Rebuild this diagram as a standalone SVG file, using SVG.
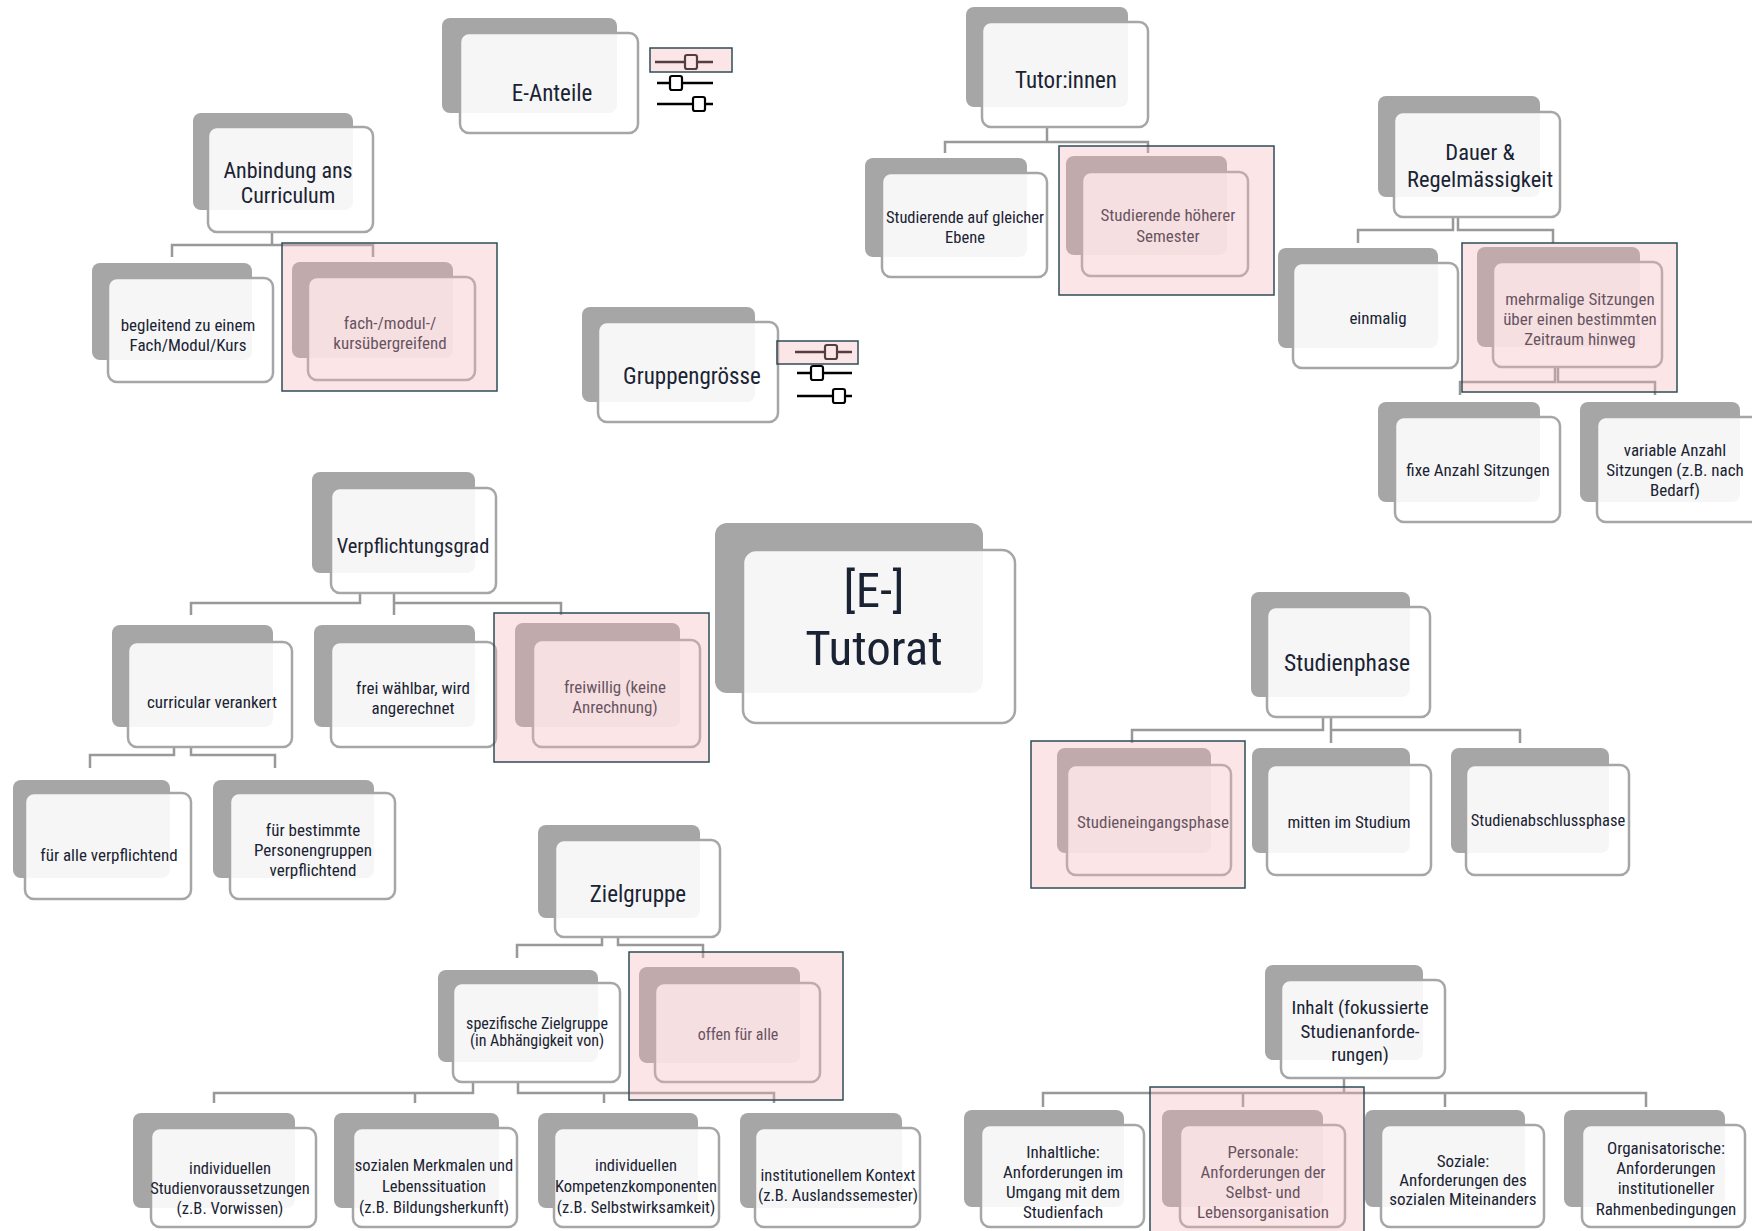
<svg xmlns="http://www.w3.org/2000/svg" width="1752" height="1231" viewBox="0 0 1752 1231">
<style>
.sh{fill:#a6a6a6}
.fr{fill:#fff;fill-opacity:.9;stroke:#a6a6a6;stroke-width:2.5}
.t{font-family:"Liberation Sans Narrow","Arial Narrow","Roboto Condensed","DejaVu Sans Condensed","Liberation Sans",sans-serif;fill:#1a2333;text-anchor:middle}
.ti{font-size:22px}
.ch{font-size:17px}
.cb{font-size:16.5px}
.sm{font-size:16px}
.hl{fill:#f3b2b8;fill-opacity:.34;stroke:#2f4c57;stroke-width:1.5}
.cn{fill:none;stroke:#999;stroke-width:2.5}
.sl{stroke:#000;stroke-width:2.5}
.kn{fill:#fff;stroke:#000;stroke-width:2.2}
</style>
<rect width="1752" height="1231" fill="#fff"/>
<g id="connectors">
<path class="cn" d="M272,232V245H172V257M272,245H373V257"/>
<path class="cn" d="M1047,127V142H945V153M1047,142H1148V153"/>
<path class="cn" d="M1453,217V230H1358V243M1458,217V230H1553V243"/>
<path class="cn" d="M1555,367V382H1460V395M1558,367V382H1655V395"/>
<path class="cn" d="M360,593V603H191V615M394,593V615M394,603H561V615"/>
<path class="cn" d="M174,747V755H90V768M191,747V755H275V768"/>
<path class="cn" d="M1323,717V730H1132V743M1331,717V743M1331,730H1520V743"/>
<path class="cn" d="M602,937V945H517V958M618,937V945H703V958"/>
<path class="cn" d="M473,1082V1093H214V1103M415,1093V1103M518,1082V1093H774V1103M604,1093V1103"/>
<path class="cn" d="M1344,1078V1093M1043,1107V1093H1646V1107M1243,1093V1107M1445,1093V1107"/>
</g>
<g id="e-anteile">
<rect class="sh" x="442" y="18" width="175" height="95" rx="8"/>
<rect class="fr" x="460" y="33" width="178" height="100" rx="9"/>
<text class="t" x="552" y="101" font-size="23">E-Anteile</text>
</g>
<g id="slider-e-anteile">
<line class="sl" x1="655" y1="62" x2="713" y2="62"/>
<rect class="kn" x="685" y="55" width="12" height="14" rx="2"/>
<line class="sl" x1="657" y1="83" x2="713" y2="83"/>
<rect class="kn" x="670" y="76" width="12" height="14" rx="2"/>
<line class="sl" x1="657" y1="104" x2="713" y2="104"/>
<rect class="kn" x="693" y="97" width="12" height="14" rx="2"/>
<rect class="hl" x="650" y="48" width="82" height="24"/>
</g>
<g id="gruppengroesse">
<rect class="sh" x="582" y="307" width="173" height="95" rx="8"/>
<rect class="fr" x="598" y="322" width="180" height="100" rx="9"/>
<text class="t" x="692" y="384" font-size="23">Gruppengrösse</text>
</g>
<g id="slider-gruppengroesse">
<line class="sl" x1="795" y1="352" x2="852" y2="352"/>
<rect class="kn" x="825" y="345" width="12" height="14" rx="2"/>
<line class="sl" x1="797" y1="373" x2="852" y2="373"/>
<rect class="kn" x="811" y="366" width="12" height="14" rx="2"/>
<line class="sl" x1="797" y1="396" x2="852" y2="396"/>
<rect class="kn" x="833" y="389" width="12" height="14" rx="2"/>
<rect class="hl" x="777" y="341" width="81" height="23"/>
</g>
<g id="anbindung">
<rect class="sh" x="193" y="113" width="160" height="97" rx="8"/>
<rect class="fr" x="208" y="127" width="165" height="105" rx="9"/>
<text class="t ti" x="288" y="178">Anbindung ans</text>
<text class="t ti" x="288" y="203">Curriculum</text>
</g>
<g id="begleitend">
<rect class="sh" x="92" y="263" width="160" height="97" rx="8"/>
<rect class="fr" x="108" y="278" width="165" height="104" rx="9"/>
<text class="t ch" x="188" y="331">begleitend zu einem</text>
<text class="t ch" x="188" y="351">Fach/Modul/Kurs</text>
</g>
<g id="fachuebergreifend">
<rect class="sh" x="292" y="262" width="161" height="96" rx="8"/>
<rect class="fr" x="308" y="277" width="167" height="103" rx="9"/>
<text class="t ch" x="390" y="329">fach-/modul-/</text>
<text class="t ch" x="390" y="349">kursübergreifend</text>
<rect class="hl" x="282" y="243" width="215" height="148"/>
</g>
<g id="tutorinnen">
<rect class="sh" x="966" y="7" width="162" height="100" rx="8"/>
<rect class="fr" x="982" y="22" width="166" height="105" rx="9"/>
<text class="t" x="1066" y="88" font-size="23">Tutor:innen</text>
</g>
<g id="gleiche-ebene">
<rect class="sh" x="865" y="158" width="162" height="99" rx="8"/>
<rect class="fr" x="882" y="173" width="165" height="104" rx="9"/>
<text class="t" x="965" y="223" font-size="16.5">Studierende auf gleicher</text>
<text class="t" x="965" y="243" font-size="16.5">Ebene</text>
</g>
<g id="hoehere-semester">
<rect class="sh" x="1066" y="156" width="161" height="99" rx="8"/>
<rect class="fr" x="1082" y="172" width="166" height="104" rx="9"/>
<text class="t ch" x="1168" y="221">Studierende höherer</text>
<text class="t ch" x="1168" y="242">Semester</text>
<rect class="hl" x="1059" y="146" width="215" height="149"/>
</g>
<g id="dauer">
<rect class="sh" x="1378" y="96" width="162" height="101" rx="8"/>
<rect class="fr" x="1394" y="112" width="166" height="105" rx="9"/>
<text class="t" x="1480" y="160" font-size="22.5">Dauer &amp;</text>
<text class="t" x="1480" y="187" font-size="22.5">Regelmässigkeit</text>
</g>
<g id="einmalig">
<rect class="sh" x="1278" y="248" width="160" height="100" rx="8"/>
<rect class="fr" x="1293" y="263" width="165" height="105" rx="9"/>
<text class="t ch" x="1378" y="324">einmalig</text>
</g>
<g id="mehrmalig">
<rect class="sh" x="1477" y="247" width="163" height="100" rx="8"/>
<rect class="fr" x="1493" y="262" width="169" height="105" rx="9"/>
<text class="t ch" x="1580" y="305">mehrmalige Sitzungen</text>
<text class="t ch" x="1580" y="325">über einen bestimmten</text>
<text class="t ch" x="1580" y="345">Zeitraum hinweg</text>
<rect class="hl" x="1462" y="243" width="215" height="149"/>
</g>
<g id="fixe-anzahl">
<rect class="sh" x="1378" y="402" width="162" height="100" rx="8"/>
<rect class="fr" x="1395" y="417" width="165" height="105" rx="9"/>
<text class="t ch" x="1478" y="476">fixe Anzahl Sitzungen</text>
</g>
<g id="variable-anzahl">
<rect class="sh" x="1580" y="402" width="160" height="100" rx="8"/>
<rect class="fr" x="1597" y="417" width="165" height="105" rx="9"/>
<text class="t ch" x="1675" y="456">variable Anzahl</text>
<text class="t ch" x="1675" y="476">Sitzungen (z.B. nach</text>
<text class="t ch" x="1675" y="496">Bedarf)</text>
</g>
<g id="tutorat">
<rect class="sh" x="715" y="523" width="268" height="170" rx="12"/>
<rect class="fr" x="743" y="550" width="272" height="173" rx="13"/>
<text class="t" x="874" y="607" font-size="49">[E-]</text>
<text class="t" x="874" y="665" font-size="49">Tutorat</text>
</g>
<g id="verpflichtungsgrad">
<rect class="sh" x="312" y="472" width="163" height="101" rx="8"/>
<rect class="fr" x="331" y="488" width="165" height="105" rx="9"/>
<text class="t" x="413" y="553" font-size="20.5">Verpflichtungsgrad</text>
</g>
<g id="curricular">
<rect class="sh" x="112" y="625" width="161" height="102" rx="8"/>
<rect class="fr" x="128" y="642" width="164" height="105" rx="9"/>
<text class="t ch" x="212" y="708">curricular verankert</text>
</g>
<g id="frei-waehlbar">
<rect class="sh" x="314" y="625" width="161" height="102" rx="8"/>
<rect class="fr" x="331" y="642" width="165" height="105" rx="9"/>
<text class="t ch" x="413" y="694">frei wählbar, wird</text>
<text class="t ch" x="413" y="714">angerechnet</text>
</g>
<g id="freiwillig">
<rect class="sh" x="515" y="623" width="165" height="104" rx="8"/>
<rect class="fr" x="533" y="640" width="167" height="107" rx="9"/>
<text class="t ch" x="615" y="693">freiwillig (keine</text>
<text class="t ch" x="615" y="713">Anrechnung)</text>
<rect class="hl" x="494" y="613" width="215" height="149"/>
</g>
<g id="fuer-alle">
<rect class="sh" x="13" y="780" width="157" height="98" rx="8"/>
<rect class="fr" x="25" y="793" width="166" height="106" rx="9"/>
<text class="t ch" x="109" y="861">für alle verpflichtend</text>
</g>
<g id="fuer-bestimmte">
<rect class="sh" x="213" y="780" width="161" height="98" rx="8"/>
<rect class="fr" x="230" y="793" width="165" height="106" rx="9"/>
<text class="t ch" x="313" y="836">für bestimmte</text>
<text class="t ch" x="313" y="856">Personengruppen</text>
<text class="t ch" x="313" y="876">verpflichtend</text>
</g>
<g id="studienphase">
<rect class="sh" x="1251" y="592" width="159" height="105" rx="8"/>
<rect class="fr" x="1267" y="607" width="163" height="110" rx="9"/>
<text class="t" x="1347" y="671" font-size="23.5">Studienphase</text>
</g>
<g id="studieneingang">
<rect class="sh" x="1057" y="748" width="154" height="105" rx="8"/>
<rect class="fr" x="1067" y="765" width="164" height="110" rx="9"/>
<text class="t ch" x="1153" y="828">Studieneingangsphase</text>
<rect class="hl" x="1031" y="741" width="214" height="147"/>
</g>
<g id="mitten">
<rect class="sh" x="1252" y="748" width="158" height="105" rx="8"/>
<rect class="fr" x="1267" y="765" width="164" height="110" rx="9"/>
<text class="t ch" x="1349" y="828">mitten im Studium</text>
</g>
<g id="studienabschluss">
<rect class="sh" x="1451" y="748" width="158" height="105" rx="8"/>
<rect class="fr" x="1466" y="765" width="163" height="110" rx="9"/>
<text class="t" x="1548" y="826" font-size="16.5">Studienabschlussphase</text>
</g>
<g id="zielgruppe">
<rect class="sh" x="538" y="825" width="162" height="93" rx="8"/>
<rect class="fr" x="555" y="840" width="165" height="97" rx="9"/>
<text class="t" x="638" y="902" font-size="23">Zielgruppe</text>
</g>
<g id="spezifisch">
<rect class="sh" x="438" y="970" width="160" height="92" rx="8"/>
<rect class="fr" x="453" y="983" width="167" height="99" rx="9"/>
<text class="t sm" x="537" y="1029">spezifische Zielgruppe</text>
<text class="t sm" x="537" y="1046">(in Abhängigkeit von)</text>
</g>
<g id="offen">
<rect class="sh" x="639" y="967" width="161" height="96" rx="8"/>
<rect class="fr" x="655" y="983" width="165" height="99" rx="9"/>
<text class="t sm" x="738" y="1040">offen für alle</text>
<rect class="hl" x="629" y="952" width="214" height="148"/>
</g>
<g id="studienvoraussetzungen">
<rect class="sh" x="133" y="1113" width="162" height="95" rx="8"/>
<rect class="fr" x="151" y="1128" width="165" height="99" rx="9"/>
<text class="t cb" x="230" y="1174">individuellen</text>
<text class="t cb" x="230" y="1194">Studienvoraussetzungen</text>
<text class="t cb" x="230" y="1214">(z.B. Vorwissen)</text>
</g>
<g id="soziale-merkmale">
<rect class="sh" x="334" y="1113" width="165" height="95" rx="8"/>
<rect class="fr" x="353" y="1128" width="164" height="99" rx="9"/>
<text class="t cb" x="434" y="1171">sozialen Merkmalen und</text>
<text class="t cb" x="434" y="1192">Lebenssituation</text>
<text class="t cb" x="434" y="1213">(z.B. Bildungsherkunft)</text>
</g>
<g id="kompetenz">
<rect class="sh" x="538" y="1113" width="160" height="95" rx="8"/>
<rect class="fr" x="554" y="1128" width="165" height="99" rx="9"/>
<text class="t cb" x="636" y="1171">individuellen</text>
<text class="t cb" x="636" y="1192">Kompetenzkomponenten</text>
<text class="t cb" x="636" y="1213">(z.B. Selbstwirksamkeit)</text>
</g>
<g id="institutionell">
<rect class="sh" x="740" y="1113" width="162" height="95" rx="8"/>
<rect class="fr" x="755" y="1128" width="165" height="99" rx="9"/>
<text class="t cb" x="838" y="1181">institutionellem Kontext</text>
<text class="t cb" x="838" y="1201">(z.B. Auslandssemester)</text>
</g>
<g id="inhalt">
<rect class="sh" x="1265" y="965" width="158" height="95" rx="8"/>
<rect class="fr" x="1281" y="980" width="164" height="98" rx="9"/>
<text class="t" x="1360" y="1014" font-size="19">Inhalt (fokussierte</text>
<text class="t" x="1360" y="1038" font-size="19">Studienanforde-</text>
<text class="t" x="1360" y="1061" font-size="19">rungen)</text>
</g>
<g id="inhaltliche">
<rect class="sh" x="964" y="1110" width="160" height="97" rx="8"/>
<rect class="fr" x="981" y="1125" width="163" height="102" rx="9"/>
<text class="t ch" x="1063" y="1158">Inhaltliche:</text>
<text class="t ch" x="1063" y="1178">Anforderungen im</text>
<text class="t ch" x="1063" y="1198">Umgang mit dem</text>
<text class="t ch" x="1063" y="1218">Studienfach</text>
</g>
<g id="personale">
<rect class="sh" x="1162" y="1110" width="161" height="97" rx="8"/>
<rect class="fr" x="1180" y="1125" width="165" height="102" rx="9"/>
<text class="t ch" x="1263" y="1158">Personale:</text>
<text class="t ch" x="1263" y="1178">Anforderungen der</text>
<text class="t ch" x="1263" y="1198">Selbst- und</text>
<text class="t ch" x="1263" y="1218">Lebensorganisation</text>
<rect class="hl" x="1150" y="1087" width="214" height="150"/>
</g>
<g id="soziale">
<rect class="sh" x="1365" y="1110" width="160" height="97" rx="8"/>
<rect class="fr" x="1381" y="1125" width="163" height="102" rx="9"/>
<text class="t ch" x="1463" y="1167">Soziale:</text>
<text class="t ch" x="1463" y="1186">Anforderungen des</text>
<text class="t ch" x="1463" y="1205">sozialen Miteinanders</text>
</g>
<g id="organisatorische">
<rect class="sh" x="1564" y="1110" width="161" height="97" rx="8"/>
<rect class="fr" x="1582" y="1125" width="163" height="102" rx="9"/>
<text class="t ch" x="1666" y="1154">Organisatorische:</text>
<text class="t ch" x="1666" y="1174">Anforderungen</text>
<text class="t ch" x="1666" y="1194">institutioneller</text>
<text class="t ch" x="1666" y="1215">Rahmenbedingungen</text>
</g>
</svg>
